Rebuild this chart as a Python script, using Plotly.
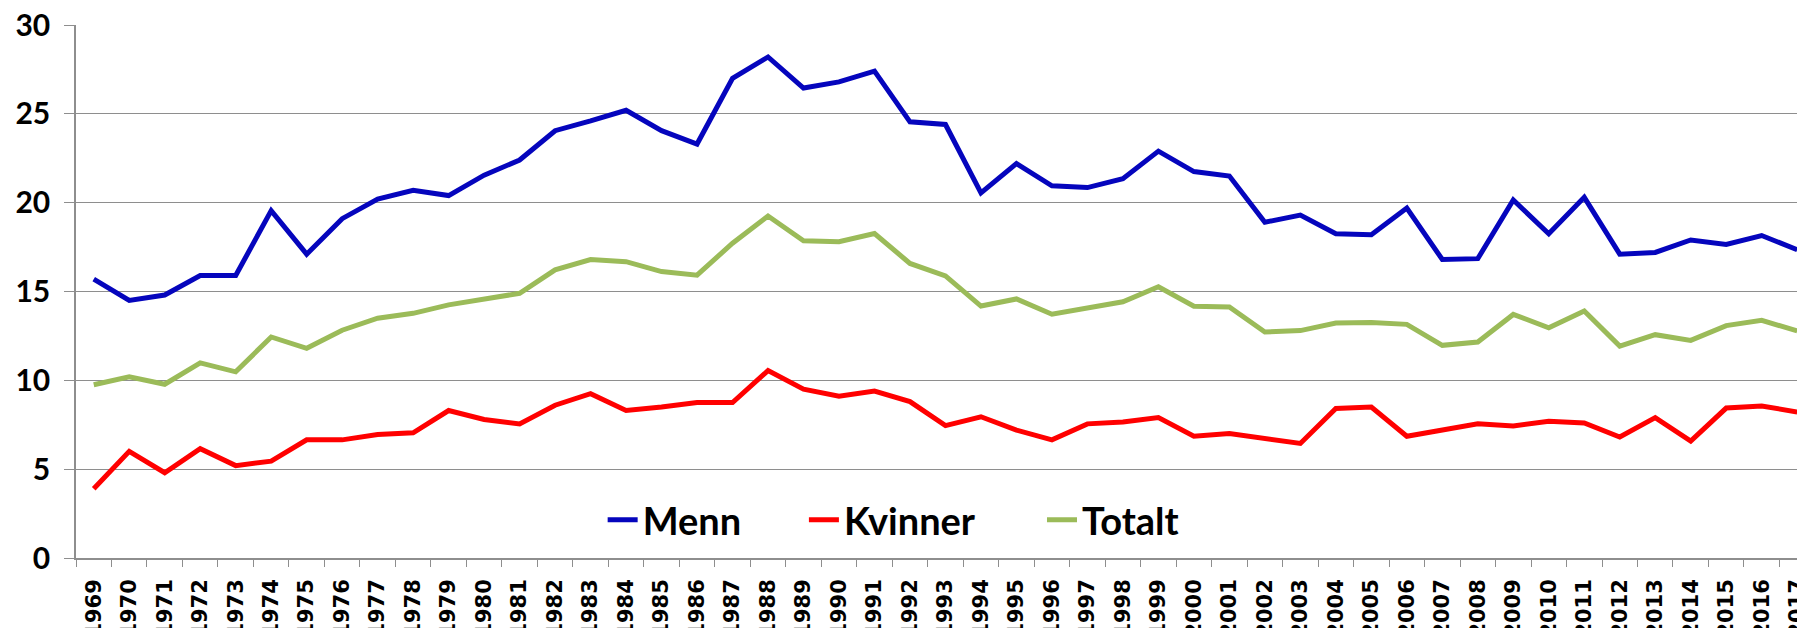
import plotly.graph_objects as go

years = [str(y) for y in range(1969, 2018)]

menn = [15.7, 14.5, 14.8, 15.9, 15.9, 19.55, 17.1, 19.1, 20.2, 20.7,
        20.4, 21.55, 22.4, 24.05, 24.6, 25.2, 24.05, 23.3, 27.0, 28.2,
        26.45, 26.8, 27.4, 24.55, 24.4, 20.55, 22.2, 20.95, 20.85, 21.35,
        22.9, 21.75, 21.5, 18.9, 19.3, 18.25, 18.2, 19.7, 16.8, 16.85,
        20.15, 18.25, 20.3, 17.1, 17.2, 17.9, 17.65, 18.15, 17.35]

kvinner = [3.9, 6.0, 4.8, 6.15, 5.2, 5.45, 6.65, 6.65, 6.95, 7.05,
           8.3, 7.8, 7.55, 8.6, 9.25, 8.3, 8.5, 8.75, 8.75, 10.55,
           9.5, 9.1, 9.4, 8.8, 7.45, 7.95, 7.2, 6.65, 7.55, 7.65,
           7.9, 6.85, 7.0, 6.72, 6.45, 8.42, 8.5, 6.85, 7.22, 7.56,
           7.43, 7.69, 7.6, 6.81, 7.9, 6.58, 8.44, 8.56, 8.22]

totalt = [9.75, 10.2, 9.78, 10.98, 10.48, 12.44, 11.8, 12.82, 13.5, 13.77,
          14.25, 14.6, 14.9, 16.22, 16.8, 16.68, 16.12, 15.92, 17.72, 19.25,
          17.85, 17.8, 18.26, 16.58, 15.88, 14.18, 14.58, 13.72, 14.1, 14.42,
          15.27, 14.17, 14.13, 12.72, 12.8, 13.23, 13.25, 13.15, 11.97, 12.16,
          13.71, 12.96, 13.9, 11.93, 12.57, 12.25, 13.08, 13.38, 12.78]

series = [("Menn", menn, "#0505BD", "legend", 0.3046),
          ("Kvinner", kvinner, "#FF0000", "legend2", 0.4210),
          ("Totalt", totalt, "#9BBB59", "legend3", 0.5587)]

legend_font = dict(family="Lato", size=38, color="black", weight="bold")

fig = go.Figure()
legends = {}
for name, vals, color, leg, lx in series:
    fig.add_trace(go.Scatter(x=years, y=vals, name=name, mode="lines",
                             line=dict(color=color, width=5), legend=leg))
    legends[leg] = dict(x=lx, xanchor="left", y=0.071, yanchor="middle",
                        orientation="h", font=legend_font,
                        bgcolor="rgba(0,0,0,0)", borderwidth=0)

grid = "#8E8E8E"
fig.update_layout(
    template="none",
    width=1805, height=628,
    # page body adds an 8px offset; margins compensate so the plot lands where the reference has it
    margin=dict(l=68, r=8, t=17, b=78, autoexpand=False),
    paper_bgcolor="white", plot_bgcolor="white",
    showlegend=True,
    **legends,
    xaxis=dict(type="category", range=[-0.5, 48.22], tickangle=-90, automargin=False,
               tickson="boundaries", ticks="outside", ticklen=7, tickcolor=grid,
               tickwidth=1.3, showgrid=False, showline=True, linecolor=grid, linewidth=1.5,
               ticklabelstandoff=11, ticklabeloverflow="allow",
               tickfont=dict(family="DejaVu Sans", size=21, color="black", weight="bold")),
    yaxis=dict(range=[0, 30], dtick=5, tick0=0, showgrid=True, gridcolor=grid, gridwidth=1.3,
               ticks="outside", ticklen=10, tickcolor=grid, tickwidth=1.3, automargin=False,
               showline=True, linecolor=grid, linewidth=1.5, zeroline=False,
               ticklabelstandoff=8, ticklabeloverflow="allow",
               tickfont=dict(family="Lato", size=30, color="black", weight="bold")),
)

fig.write_html("out.html")
